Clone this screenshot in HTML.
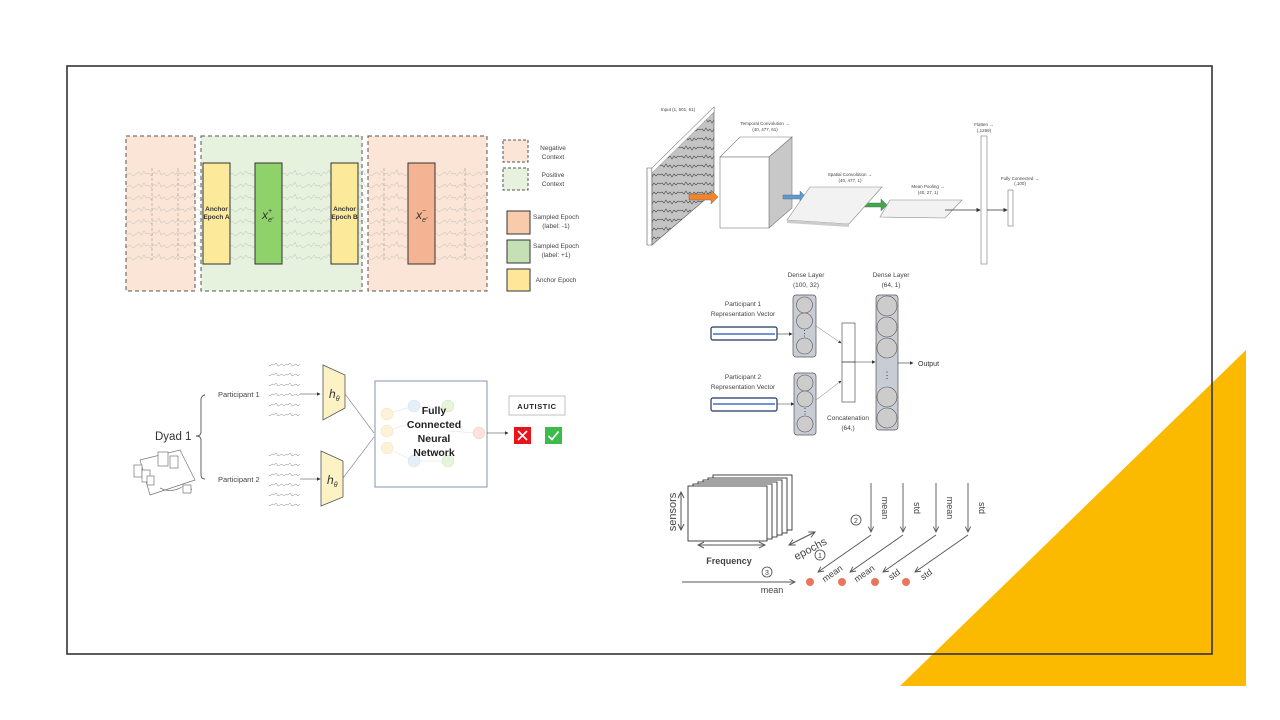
<!DOCTYPE html>
<html><head><meta charset="utf-8"><style>
html,body{margin:0;padding:0;background:#fff}
svg{display:block}
text{font-family:"Liberation Sans",sans-serif}
</style></head><body>
<svg width="1280" height="720" viewBox="0 0 1280 720" xmlns="http://www.w3.org/2000/svg">
<defs>
<pattern id="eeg" x="0" y="0" width="34" height="12" patternUnits="userSpaceOnUse">
<polyline points="0,6 3,4 5,7 8,3 10,6 13,5 15,8 18,4 20,6 23,2 25,7 28,5 31,8 34,6" fill="none" stroke="#aaa" stroke-width="0.5"/>
</pattern>
<pattern id="eeg2" x="0" y="0" width="20" height="9" patternUnits="userSpaceOnUse">
<rect width="20" height="9" fill="#c4c4c4"/>
<polyline points="0,4 2,3 4,5 6,2 8,5 10,3 12,6 14,3 16,5 18,3 20,4" fill="none" stroke="#444" stroke-width="0.6"/>
</pattern>
<pattern id="sig" x="0" y="0" width="14" height="10" patternUnits="userSpaceOnUse">
<polyline points="0,5 2,4 4,6 6,4 8,5 10,3 12,6 14,5" fill="none" stroke="#777" stroke-width="0.5"/>
</pattern>
<marker id="ah" markerWidth="6" markerHeight="6" refX="5" refY="3" orient="auto"><path d="M0,0 L6,3 L0,6 z" fill="#333"/></marker>
<marker id="ah2" markerWidth="8" markerHeight="8" refX="7" refY="4" orient="auto"><path d="M1,1 L7,4 L1,7" fill="none" stroke="#555" stroke-width="1"/></marker>
<marker id="ah3" markerWidth="8" markerHeight="8" refX="1" refY="4" orient="auto"><path d="M7,1 L1,4 L7,7" fill="none" stroke="#555" stroke-width="1"/></marker>
</defs>

<polygon points="900,686 1246,350 1246,686" fill="#FBBA00"/>
<rect x="67" y="66" width="1145" height="588" fill="none" stroke="#333" stroke-width="1.6"/>

<!-- Panel 1 -->
<rect x="126" y="136" width="69" height="155" fill="#fbe5d6" stroke="#555" stroke-dasharray="4,3"/>
<rect x="201" y="136" width="161" height="155" fill="#e6f2dd" stroke="#555" stroke-dasharray="4,3"/>
<rect x="368" y="136" width="119" height="155" fill="#fbe5d6" stroke="#555" stroke-dasharray="4,3"/>
<rect x="126" y="168" width="361" height="92" fill="url(#eeg)" opacity="0.7"/>
<g stroke="#999" stroke-width="0.6" stroke-dasharray="3,2">
<line x1="152" y1="168" x2="152" y2="260"/><line x1="178" y1="168" x2="178" y2="260"/>
<line x1="384" y1="168" x2="384" y2="260"/><line x1="465" y1="168" x2="465" y2="260"/>
</g>
<rect x="203" y="163" width="27" height="101" fill="#fde99a" stroke="#333" stroke-width="1"/>
<rect x="255" y="163" width="27" height="101" fill="#8fd16a" stroke="#333" stroke-width="1"/>
<rect x="331" y="163" width="27" height="101" fill="#fde99a" stroke="#333" stroke-width="1"/>
<rect x="408" y="163" width="27" height="101" fill="#f4b494" stroke="#333" stroke-width="1"/>
<text x="216.5" y="211" font-size="6.5" font-weight="bold" text-anchor="middle" fill="#333">Anchor</text>
<text x="216.5" y="219" font-size="6.5" font-weight="bold" text-anchor="middle" fill="#333">Epoch A</text>
<text x="344.5" y="211" font-size="6.5" font-weight="bold" text-anchor="middle" fill="#333">Anchor</text>
<text x="344.5" y="219" font-size="6.5" font-weight="bold" text-anchor="middle" fill="#333">Epoch B</text>
<text x="262" y="219" font-size="12" font-style="italic" font-family="Liberation Serif" fill="#333">x<tspan font-size="7" dy="-6">+</tspan><tspan font-size="7" dy="9" dx="-4">e′</tspan></text>
<text x="416" y="219" font-size="12" font-style="italic" font-family="Liberation Serif" fill="#333">x<tspan font-size="7" dy="-6">−</tspan><tspan font-size="7" dy="9" dx="-4">e′</tspan></text>
<rect x="503" y="140" width="25" height="22" fill="#fbe5d6" stroke="#555" stroke-dasharray="3,2"/>
<rect x="503" y="168" width="25" height="22" fill="#e6f2dd" stroke="#555" stroke-dasharray="3,2"/>
<rect x="507" y="211" width="23" height="23" fill="#f8cbad" stroke="#333"/>
<rect x="507" y="240" width="23" height="23" fill="#c5e0b4" stroke="#333"/>
<rect x="507" y="269" width="23" height="22" fill="#ffe699" stroke="#333"/>
<g font-size="6.5" fill="#444" text-anchor="middle">
<text x="553" y="150">Negative</text><text x="553" y="159">Context</text>
<text x="553" y="177">Positive</text><text x="553" y="186">Context</text>
<text x="556" y="219">Sampled Epoch</text><text x="556" y="228">(label: -1)</text>
<text x="556" y="248">Sampled Epoch</text><text x="556" y="257">(label: +1)</text>
<text x="556" y="282">Anchor Epoch</text>
</g>

<!-- Panel 2 CNN -->
<text x="678" y="111" font-size="4.5" fill="#444" text-anchor="middle">Input (1, 501, 61)</text>
<polygon points="647,168 652,168 652,245 647,245" fill="#fff" stroke="#555" stroke-width="0.6"/>
<polygon points="652,168 714,107 714,192 652,245" fill="url(#eeg2)" stroke="#555" stroke-width="0.6"/>
<polygon points="652,168 714,107 714,112 652,173" fill="#fff" stroke="#777" stroke-width="0.4"/>
<polygon points="720,157 740,137 792,137 769,157" fill="#fff" stroke="#777" stroke-width="0.6"/>
<polygon points="769,157 792,137 792,208 769,228" fill="#c8c8c8" stroke="#777" stroke-width="0.6"/>
<rect x="720" y="157" width="49" height="71" fill="#fff" stroke="#777" stroke-width="0.6"/>
<text x="765" y="125" font-size="4.5" fill="#444" text-anchor="middle">Temporal Convolution →</text>
<text x="765" y="131" font-size="4.5" fill="#444" text-anchor="middle">(40, 477, 61)</text>
<path d="M689,194 h22 v-4 l7,7 -7,7 v-4 h-22 z" fill="#f0852d" stroke="#555" stroke-width="0.4"/>
<path d="M783,195 h17 v-4 l6,6 -6,6 v-4 h-17 z" fill="#5b9bd5" stroke="#555" stroke-width="0.4"/>
<path d="M864,203 h17 v-4 l6,6 -6,6 v-4 h-17 z" fill="#3cab4a" stroke="#555" stroke-width="0.4"/>
<polygon points="787,220 810,187 882,187 849,224" fill="#f2f2f2" stroke="#888" stroke-width="0.6"/>
<polygon points="787,220 849,224 849,227 787,223" fill="#ccc"/>
<text x="850" y="176" font-size="4.5" fill="#444" text-anchor="middle">Spatial Convolution →</text>
<text x="850" y="182" font-size="4.5" fill="#444" text-anchor="middle">(40, 477, 1)</text>
<polygon points="880,217 890,200 962,200 945,218" fill="#f2f2f2" stroke="#888" stroke-width="0.6"/>
<text x="928" y="188" font-size="4.5" fill="#444" text-anchor="middle">Mean Pooling →</text>
<text x="928" y="194" font-size="4.5" fill="#444" text-anchor="middle">(40, 27, 1)</text>
<line x1="945" y1="210" x2="980" y2="210" stroke="#333" stroke-width="0.7" marker-end="url(#ah)"/>
<rect x="981" y="136" width="6" height="128" fill="#fff" stroke="#777" stroke-width="0.6"/>
<text x="984" y="126" font-size="4.5" fill="#444" text-anchor="middle">Flatten →</text>
<text x="984" y="132" font-size="4.5" fill="#444" text-anchor="middle">(,1269)</text>
<line x1="987" y1="210" x2="1007" y2="210" stroke="#333" stroke-width="0.7" marker-end="url(#ah)"/>
<rect x="1008" y="190" width="5" height="36" fill="#fff" stroke="#777" stroke-width="0.6"/>
<text x="1020" y="180" font-size="4.5" fill="#444" text-anchor="middle">Fully Connected →</text>
<text x="1020" y="185" font-size="4.5" fill="#444" text-anchor="middle">(,100)</text>

<!-- Panel 3 -->
<g font-size="6.5" fill="#444" text-anchor="middle">
<text x="806" y="277">Dense Layer</text><text x="806" y="287">(100, 32)</text>
<text x="891" y="277">Dense Layer</text><text x="891" y="287">(64, 1)</text>
<text x="743" y="306">Participant 1</text><text x="743" y="316">Representation Vector</text>
<text x="743" y="379">Participant 2</text><text x="743" y="389">Representation Vector</text>
<text x="848" y="420">Concatenation</text><text x="848" y="430">(64,)</text>
</g>
<text x="918" y="366" font-size="7" fill="#333">Output</text>
<rect x="711" y="327" width="66" height="13" rx="2" fill="#fff" stroke="#1f3864" stroke-width="1.2"/>
<line x1="713" y1="334" x2="775" y2="334" stroke="#4472c4" stroke-width="1.5"/>
<rect x="711" y="398" width="66" height="13" rx="2" fill="#fff" stroke="#1f3864" stroke-width="1.2"/>
<line x1="713" y1="404" x2="775" y2="404" stroke="#4472c4" stroke-width="1.5"/>
<line x1="777" y1="334" x2="792" y2="334" stroke="#333" stroke-width="0.6" marker-end="url(#ah)"/>
<line x1="777" y1="404" x2="794" y2="404" stroke="#333" stroke-width="0.6" marker-end="url(#ah)"/>
<rect x="793" y="295" width="23" height="62" rx="3" fill="#c8ccd4" stroke="#555" stroke-width="0.7"/>
<circle cx="804.5" cy="305" r="8" fill="#ccc" stroke="#555" stroke-width="0.6"/>
<circle cx="804.5" cy="321" r="8" fill="#ccc" stroke="#555" stroke-width="0.6"/>
<circle cx="804.5" cy="346" r="8" fill="#ccc" stroke="#555" stroke-width="0.6"/>
<text x="804.5" y="336" font-size="8" text-anchor="middle" fill="#333">⋮</text>
<rect x="794" y="373" width="22" height="62" rx="3" fill="#c8ccd4" stroke="#555" stroke-width="0.7"/>
<circle cx="805" cy="383" r="8" fill="#ccc" stroke="#555" stroke-width="0.6"/>
<circle cx="805" cy="399" r="8" fill="#ccc" stroke="#555" stroke-width="0.6"/>
<circle cx="805" cy="424" r="8" fill="#ccc" stroke="#555" stroke-width="0.6"/>
<text x="805" y="414" font-size="8" text-anchor="middle" fill="#333">⋮</text>
<line x1="816" y1="326" x2="841" y2="343" stroke="#777" stroke-width="0.5" marker-end="url(#ah)"/>
<line x1="816" y1="400" x2="841" y2="381" stroke="#777" stroke-width="0.5" marker-end="url(#ah)"/>
<rect x="842" y="323" width="13" height="79" fill="#fff" stroke="#555" stroke-width="0.7"/>
<line x1="842" y1="362" x2="855" y2="362" stroke="#333" stroke-width="0.8"/>
<line x1="855" y1="362" x2="875" y2="362" stroke="#333" stroke-width="0.6" marker-end="url(#ah)"/>
<rect x="876" y="295" width="22" height="135" rx="3" fill="#c8ccd4" stroke="#555" stroke-width="0.7"/>
<g fill="#ccc" stroke="#555" stroke-width="0.6">
<circle cx="887" cy="306" r="10"/><circle cx="887" cy="327" r="10"/><circle cx="887" cy="348" r="10"/>
<circle cx="887" cy="397" r="10"/><circle cx="887" cy="418" r="10"/>
</g>
<text x="887" y="378" font-size="9" text-anchor="middle" fill="#333">⋮</text>
<line x1="898" y1="363" x2="913" y2="363" stroke="#333" stroke-width="0.6" marker-end="url(#ah)"/>

<!-- Panel 4 -->
<g fill="#fff" stroke="#333" stroke-width="0.9">
<rect x="713" y="475" width="79" height="55"/><rect x="708" y="478" width="79" height="55"/>
<rect x="703" y="480" width="79" height="55"/><rect x="698" y="482" width="79" height="55"/>
<rect x="693" y="484" width="79" height="55"/><rect x="688" y="486" width="79" height="55"/>
</g>
<line x1="681" y1="492" x2="681" y2="530" stroke="#555" stroke-width="1" marker-end="url(#ah2)" marker-start="url(#ah3)"/>
<text x="676" y="512" font-size="11" fill="#444" text-anchor="middle" transform="rotate(-90 676 512)">sensors</text>
<line x1="698" y1="545" x2="765" y2="545" stroke="#555" stroke-width="1" marker-end="url(#ah2)" marker-start="url(#ah3)"/>
<text x="729" y="564" font-size="9" font-weight="bold" font-family="Liberation Serif" fill="#444" text-anchor="middle">Frequency</text>
<line x1="789" y1="545" x2="815" y2="532" stroke="#555" stroke-width="1" marker-end="url(#ah2)" marker-start="url(#ah3)"/>
<text x="812" y="552" font-size="11" fill="#444" text-anchor="middle" transform="rotate(-28 812 552)">epochs</text>
<g stroke="#555" stroke-width="0.9" fill="none">
<line x1="871" y1="483" x2="871" y2="532" marker-end="url(#ah2)"/>
<line x1="903" y1="483" x2="903" y2="532" marker-end="url(#ah2)"/>
<line x1="936" y1="483" x2="936" y2="532" marker-end="url(#ah2)"/>
<line x1="968" y1="483" x2="968" y2="532" marker-end="url(#ah2)"/>
<line x1="871" y1="535" x2="818" y2="572" marker-end="url(#ah2)"/>
<line x1="903" y1="535" x2="850" y2="572" marker-end="url(#ah2)"/>
<line x1="936" y1="535" x2="883" y2="572" marker-end="url(#ah2)"/>
<line x1="968" y1="535" x2="915" y2="572" marker-end="url(#ah2)"/>
<line x1="682" y1="582" x2="795" y2="582" marker-end="url(#ah2)"/>
</g>
<g font-size="9" fill="#444">
<text x="882" y="508" transform="rotate(90 882 508)" text-anchor="middle">mean</text>
<text x="914" y="508" transform="rotate(90 914 508)" text-anchor="middle">std</text>
<text x="947" y="508" transform="rotate(90 947 508)" text-anchor="middle">mean</text>
<text x="979" y="508" transform="rotate(90 979 508)" text-anchor="middle">std</text>
<text x="834" y="576" transform="rotate(-35 834 576)" text-anchor="middle">mean</text>
<text x="866" y="576" transform="rotate(-35 866 576)" text-anchor="middle">mean</text>
<text x="896" y="577" transform="rotate(-35 896 577)" text-anchor="middle">std</text>
<text x="928" y="577" transform="rotate(-35 928 577)" text-anchor="middle">std</text>
<text x="772" y="593" text-anchor="middle">mean</text>
</g>
<g fill="none" stroke="#444" stroke-width="0.8">
<circle cx="820" cy="555" r="5"/><circle cx="856" cy="520" r="5"/><circle cx="767" cy="572" r="5"/>
</g>
<g font-size="7" fill="#444" text-anchor="middle">
<text x="820" y="558">1</text><text x="856" y="523">2</text><text x="767" y="575">3</text>
</g>
<g fill="#e8775a"><circle cx="810" cy="582" r="4"/><circle cx="842" cy="582" r="4"/><circle cx="875" cy="582" r="4"/><circle cx="906" cy="582" r="4"/></g>

<!-- Panel bottom-left -->
<text x="155" y="440" font-size="11.5" fill="#333">Dyad 1</text>
<path d="M205,395 q-3,0 -4,4 v33 q0,4 -5,4 q5,0 5,4 v35 q0,4 4,4" fill="none" stroke="#555" stroke-width="0.9"/>
<text x="218" y="397" font-size="7.5" fill="#444">Participant 1</text>
<text x="218" y="482" font-size="7.5" fill="#444">Participant 2</text>
<rect x="269" y="362" width="31" height="58" fill="url(#sig)" opacity="0.9"/>
<rect x="269" y="450" width="31" height="58" fill="url(#sig)" opacity="0.9"/>
<line x1="300" y1="394" x2="320" y2="394" stroke="#333" stroke-width="0.6" marker-end="url(#ah)"/>
<line x1="300" y1="479" x2="320" y2="479" stroke="#333" stroke-width="0.6" marker-end="url(#ah)"/>
<polygon points="323,365 345,375 345,408 323,420" fill="#fdf2c4" stroke="#555" stroke-width="0.8"/>
<polygon points="321,451 343,461 343,497 321,506" fill="#fdf2c4" stroke="#555" stroke-width="0.8"/>
<text x="329" y="398" font-size="12" font-style="italic" font-family="Liberation Serif" fill="#333">h<tspan font-size="7" dy="3">θ</tspan></text>
<text x="327" y="484" font-size="12" font-style="italic" font-family="Liberation Serif" fill="#333">h<tspan font-size="7" dy="3">θ</tspan></text>
<line x1="345" y1="394" x2="374" y2="433" stroke="#666" stroke-width="0.6"/>
<line x1="343" y1="478" x2="374" y2="437" stroke="#666" stroke-width="0.6"/>
<rect x="375" y="381" width="112" height="106" fill="#fff" stroke="#8496b0" stroke-width="1"/>
<g fill="none" stroke="#ddd" stroke-width="0.5">
<line x1="387" y1="414" x2="414" y2="406"/><line x1="387" y1="431" x2="414" y2="422"/><line x1="387" y1="448" x2="414" y2="461"/>
<line x1="414" y1="406" x2="448" y2="408"/><line x1="448" y1="431" x2="479" y2="433"/><line x1="414" y1="461" x2="448" y2="461"/>
</g>
<g stroke-width="0.5">
<circle cx="387" cy="414" r="6" fill="#fdf2d8" stroke="#eee3b0"/><circle cx="387" cy="431" r="6" fill="#fdf2d8" stroke="#eee3b0"/><circle cx="387" cy="448" r="6" fill="#fdf2d8" stroke="#eee3b0"/>
<circle cx="414" cy="406" r="6" fill="#e4eff9" stroke="#cfe0ef"/><circle cx="414" cy="461" r="6" fill="#e4eff9" stroke="#cfe0ef"/>
<circle cx="448" cy="406" r="6" fill="#e6f4dc" stroke="#cde5bd"/><circle cx="448" cy="461" r="6" fill="#e6f4dc" stroke="#cde5bd"/>
<circle cx="479" cy="433" r="6" fill="#fbe3dc" stroke="#f2cbbf"/>
</g>
<g font-size="10.5" font-weight="bold" fill="#222" text-anchor="middle">
<text x="434" y="414">Fully</text><text x="434" y="428">Connected</text><text x="434" y="442">Neural</text><text x="434" y="456">Network</text>
</g>
<line x1="487" y1="433" x2="508" y2="433" stroke="#333" stroke-width="0.6" marker-end="url(#ah)"/>
<rect x="509" y="396" width="56" height="19" fill="#fff" stroke="#999" stroke-width="0.6"/>
<text x="537" y="409" font-size="7.5" font-weight="bold" fill="#222" text-anchor="middle" letter-spacing="0.6">AUTISTIC</text>
<rect x="514" y="427" width="17" height="17" fill="#e8141c"/>
<path d="M518,431 l9,9 M527,431 l-9,9" stroke="#fff" stroke-width="1.6"/>
<rect x="545" y="427" width="17" height="17" fill="#3dbb4a"/>
<path d="M548.5,436 l3.5,3.5 l6.5,-8" fill="none" stroke="#fff" stroke-width="1.6"/>
<!-- device -->
<g fill="#fff" stroke="#777" stroke-width="0.7">
<polygon points="140,460 180,450 195,480 150,495"/>
<rect x="158" y="452" width="10" height="14"/><rect x="170" y="456" width="8" height="12"/>
<rect x="134" y="465" width="8" height="12"/><rect x="142" y="470" width="8" height="12"/><rect x="147" y="476" width="7" height="9"/>
<path d="M160,488 q10,5 20,0 q8,-5 12,2" fill="none"/>
<path d="M183,485 h8 v8 h-8 z"/>
</g>
</svg>
</body></html>
